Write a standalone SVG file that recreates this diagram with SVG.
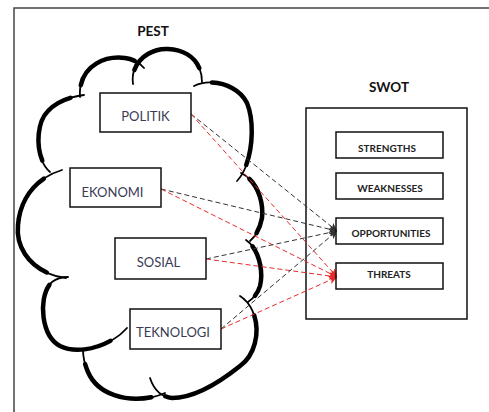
<svg xmlns="http://www.w3.org/2000/svg" width="489" height="412" viewBox="0 0 489 412">
<defs>
<style>
.frame{fill:none;stroke:#444;stroke-width:1.5}
.box{fill:#fff;stroke:#111;stroke-width:1.5}
.outer{fill:none;stroke:#111;stroke-width:1.5}
.lobe-thin{fill:none;stroke:#000;stroke-width:1.8;stroke-linecap:round}
.lobe-thick{fill:none;stroke:#000;stroke-width:4.5;stroke-linecap:round;stroke-dasharray:74 26;stroke-dashoffset:-13}
.pest{font-family:Lato,"Open Sans","Liberation Sans",sans-serif;font-size:13px;fill:#3a3a55;text-anchor:middle}
.swot{font-family:Lato,"Open Sans","Liberation Sans",sans-serif;font-size:10px;font-weight:bold;fill:#222;text-anchor:middle}
.title{font-family:Lato,"Open Sans","Liberation Sans",sans-serif;font-size:13.5px;font-weight:bold;fill:#111;text-anchor:middle}
.blk{fill:none;stroke:#333;stroke-width:1;stroke-dasharray:5 3;marker-end:url(#ab)}
.red{fill:none;stroke:#e82a2a;stroke-width:1;stroke-dasharray:5 3;marker-end:url(#ar)}
</style>
<marker id="ab" viewBox="0 0 8 8" refX="8" refY="4" markerWidth="8" markerHeight="8" markerUnits="userSpaceOnUse" orient="auto"><path d="M0,0 L8,4 L0,8 L2,4 Z" fill="#333"/></marker>
<marker id="ar" viewBox="0 0 8 8" refX="8" refY="4" markerWidth="8" markerHeight="8" markerUnits="userSpaceOnUse" orient="auto"><path d="M0,0 L8,4 L0,8 L2,4 Z" fill="#e82a2a"/></marker>
</defs>
<rect width="489" height="412" fill="#fff"/>
<path class="frame" d="M14,412 L14,8 L489,8"/>

<g id="cloud">
<g class="lobe-thin">
<path d="M50,172 C36,160 34,125 48,111 C57,101 70,97 84,95"/>
<path d="M80,97 C78,70 100,55 125,58 C133,59 140,63 144,68"/>
<path d="M133,84 C130,62 150,48 168,49 C188,50 202,62 202,82"/>
<path d="M194,86 C210,78 238,84 247,103 C256,125 252,165 237,181"/>
<path d="M241,173 C256,180 264,200 262,218 C260,228 256,236 250,241"/>
<path d="M246,240 C258,248 264,270 260,286 C258,293 254,298 248,302"/>
<path d="M240,296 C262,310 262,350 240,366 C220,382 195,398 172,398 C162,397 154,390 150,378"/>
<path d="M165,393 C140,404 100,400 88,372 C85,365 83,358 83,350"/>
<path d="M127,328 C112,345 80,356 60,346 C40,335 38,295 52,282 C57,278 62,277 68,277"/>
<path d="M66,278 C40,275 15,255 18,225 C20,200 35,178 62,170"/>
</g>
<g class="lobe-thick">
<path pathLength="100" d="M50,172 C36,160 34,125 48,111 C57,101 70,97 84,95"/>
<path pathLength="100" d="M80,97 C78,70 100,55 125,58 C133,59 140,63 144,68"/>
<path pathLength="100" d="M133,84 C130,62 150,48 168,49 C188,50 202,62 202,82"/>
<path pathLength="100" d="M194,86 C210,78 238,84 247,103 C256,125 252,165 237,181"/>
<path pathLength="100" d="M241,173 C256,180 264,200 262,218 C260,228 256,236 250,241"/>
<path pathLength="100" d="M246,240 C258,248 264,270 260,286 C258,293 254,298 248,302"/>
<path pathLength="100" d="M240,296 C262,310 262,350 240,366 C220,382 195,398 172,398 C162,397 154,390 150,378"/>
<path pathLength="100" d="M165,393 C140,404 100,400 88,372 C85,365 83,358 83,350"/>
<path pathLength="100" d="M127,328 C112,345 80,356 60,346 C40,335 38,295 52,282 C57,278 62,277 68,277"/>
<path pathLength="100" d="M66,278 C40,275 15,255 18,225 C20,200 35,178 62,170"/>
</g>
</g>

<text class="title" x="153" y="36">PEST</text>
<text class="title" x="389" y="92">SWOT</text>

<g id="swot"><rect class="outer" x="306" y="108" width="161" height="211"/></g>

<g id="connectors">
<path class="blk" d="M191,114 L337,231"/>
<path class="red" d="M191,114 L337,277"/>
<path class="blk" d="M161,189 L337,231"/>
<path class="red" d="M161,189 L337,277"/>
<path class="blk" d="M206,259 L337,231"/>
<path class="red" d="M206,259 L337,277"/>
<path class="blk" d="M221,329 L337,231"/>
<path class="red" d="M221,329 L337,277"/>
</g>

<g id="politik"><rect class="box" x="100" y="93" width="91" height="39"/><text class="pest" x="145.5" y="121">POLITIK</text></g>
<g id="ekonomi"><rect class="box" x="70" y="168" width="91" height="39"/><text class="pest" x="112.5" y="197">EKONOMI</text></g>
<g id="sosial"><rect class="box" x="115" y="238" width="91" height="41"/><text class="pest" x="158.5" y="267">SOSIAL</text></g>
<g id="teknologi"><rect class="box" x="130" y="309" width="91" height="40"/><text class="pest" x="173" y="337">TEKNOLOGI</text></g>

<g id="strengths"><rect class="outer" x="336" y="132" width="107" height="26"/><text class="swot" x="387" y="152">STRENGTHS</text></g>
<g id="weaknesses"><rect class="outer" x="336" y="173" width="107" height="26"/><text class="swot" x="390" y="192">WEAKNESSES</text></g>
<g id="opportunities"><rect class="outer" x="336" y="218" width="107" height="26"/><text class="swot" x="391" y="237">OPPORTUNITIES</text></g>
<g id="threats"><rect class="outer" x="336" y="263" width="107" height="26"/><text class="swot" x="389" y="278">THREATS</text></g>
</svg>
